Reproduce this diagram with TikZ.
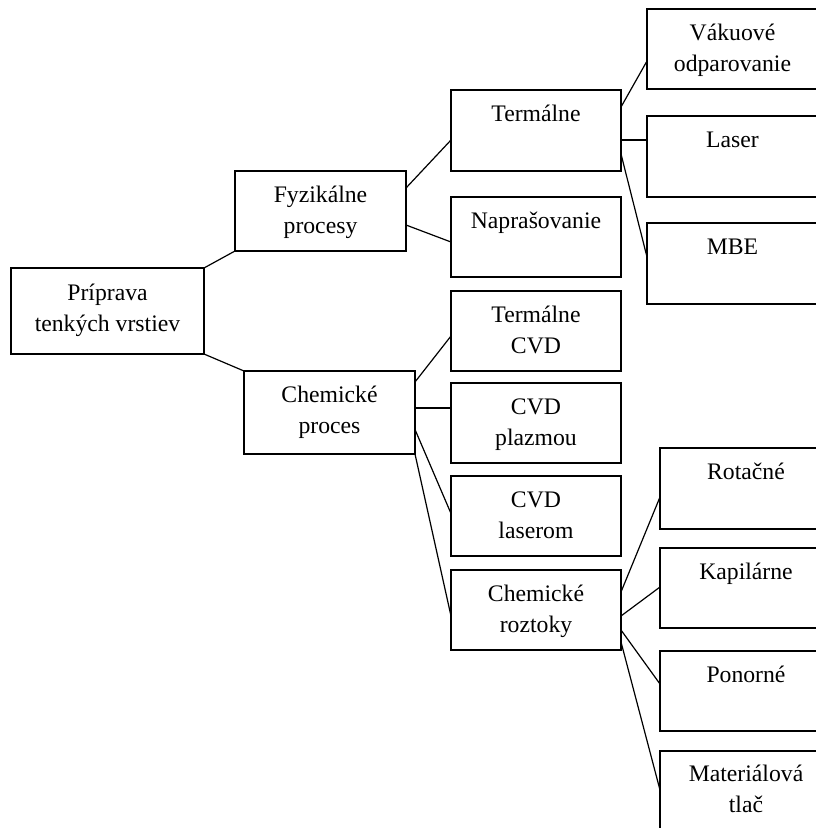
\documentclass[tikz,border=0pt]{standalone}
\usepackage{fontspec}
\setmainfont{Liberation Serif}
\usetikzlibrary{calc}
\tikzset{
  tbox/.style={draw, line width=1.2pt, inner sep=0pt, outer sep=0pt, rectangle},
  ttext/.style={inner sep=0pt, align=center, font=\fontsize{23.7pt}{31pt}\selectfont},
  conn/.style={line width=1.2pt}
}
% #7 = offset of the last baseline below the box top
\newcommand{\mybox}[7]{%
  \node[tbox, minimum width=#4pt, minimum height=#5pt, anchor=north west] (#1) at (#2,#3) {};
  \node[ttext, anchor=base] (#1t) at ([yshift=-#7pt]#1.north) {#6};
}
\begin{document}
\begin{tikzpicture}[x=1pt,y=-1pt]
\useasboundingbox (0,0) rectangle (816,828);
\fill[white] (0,0) rectangle (816,828);
\clip (0,0) rectangle (816,828);
\mybox{root}{11}{268}{193}{86}{Príprava\\tenkých vrstiev}{63}
\mybox{fyz}{235}{171}{171}{80}{Fyzikálne\\procesy}{62}
\mybox{chem}{244}{371}{171}{83}{Chemické\\proces}{62}
\mybox{term}{451}{90}{170}{81}{Termálne}{31}
\mybox{napr}{451}{197}{170}{80}{Naprašovanie}{31}
\mybox{tcvd}{451}{291}{170}{80}{Termálne\\CVD}{62}
\mybox{pcvd}{451}{383}{170}{80}{CVD\\plazmou}{62}
\mybox{lcvd}{451}{476}{170}{80}{CVD\\laserom}{62}
\mybox{roz}{451}{570}{170}{80}{Chemické\\roztoky}{62}
\mybox{vak}{647}{9}{171}{80}{Vákuové\\odparovanie}{62}
\mybox{las}{647}{116}{171}{81}{Laser}{31}
\mybox{mbe}{647}{223}{171}{81}{MBE}{31}
\mybox{rot}{660}{448}{172}{81}{Rotačné}{31}
\mybox{kap}{660}{548}{172}{80}{Kapilárne}{31}
\mybox{pon}{660}{651}{172}{80}{Ponorné}{31}
\mybox{mat}{660}{751}{172}{81}{Materiálová\\tlač}{61}
% connectors
\draw[conn] (root.north east) -- (fyz.south west);
\draw[conn] (root.south east) -- (chem.north west);
\draw[conn] ([yshift=-17pt]fyz.north east) -- ([yshift=-50pt]term.north west);
\draw[conn] ([yshift=-54pt]fyz.north east) -- ([yshift=-45pt]napr.north west);
\draw[conn] ([yshift=-17pt]term.north east) -- ([yshift=-52pt]vak.north west);
\draw[conn] ([yshift=-50pt]term.north east) -- ([yshift=-24pt]las.north west);
\draw[conn] ([yshift=-64pt]term.north east) -- ([yshift=-34pt]mbe.north west);
\draw[conn] ([yshift=-11pt]chem.north east) -- ([yshift=-45pt]tcvd.north west);
\draw[conn] ([yshift=-37pt]chem.north east) -- ([yshift=-25pt]pcvd.north west);
\draw[conn] ([yshift=-58.5pt]chem.north east) -- ([yshift=-37.5pt]lcvd.north west);
\draw[conn] (chem.south east) -- ([yshift=-46pt]roz.north west);
\draw[conn] ([yshift=-22pt]roz.north east) -- ([yshift=-49pt]rot.north west);
\draw[conn] ([yshift=-46pt]roz.north east) -- ([yshift=-39pt]kap.north west);
\draw[conn] ([yshift=-60pt]roz.north east) -- ([yshift=-33pt]pon.north west);
\draw[conn] ([yshift=-72pt]roz.north east) -- ([yshift=-39pt]mat.north west);
\end{tikzpicture}
\end{document}
